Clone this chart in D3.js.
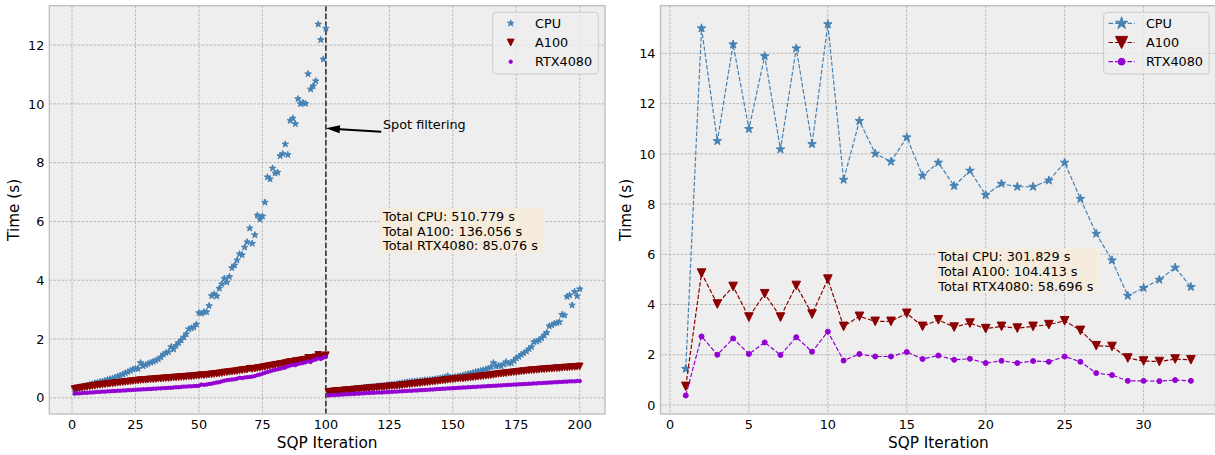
<!DOCTYPE html>
<html>
<head>
<meta charset="utf-8">
<script src="https://cdn.jsdelivr.net/npm/d3@7"></script>
<style>
body { margin: 0; background: #fff; }
svg { display: block; font-family: "DejaVu Sans", sans-serif; }
</style>
</head>
<body>
<svg width="1215" height="455"></svg>
<script>
// left panel: 200 SQP iterations, spot filtering at 100
var iterAll = d3.range(1, 201);
var cpuAll = [
  0.30,0.32,0.34,0.37,0.40,0.42,0.45,0.47,0.50,0.52,
  0.54,0.56,0.58,0.61,0.64,0.66,0.69,0.73,0.76,0.80,
  0.84,0.88,0.92,0.97,1.00,0.99,1.19,1.08,1.12,1.16,
  1.20,1.23,1.27,1.31,1.38,1.48,1.53,1.56,1.73,1.65,
  1.78,1.87,1.96,2.06,2.17,2.34,2.37,2.40,2.50,2.89,
  2.87,2.92,2.92,3.13,3.47,3.53,3.46,3.72,3.87,4.06,
  3.93,4.12,4.42,4.51,4.68,4.89,4.86,5.12,5.30,5.77,
  5.25,5.54,6.21,6.07,6.18,6.65,7.51,7.44,7.81,7.64,
  7.67,8.23,8.30,8.63,8.27,9.43,9.51,9.32,10.17,10.00,
  10.04,10.01,11.02,10.50,10.61,10.78,12.71,12.18,11.52,12.57,
  0.20,0.21,0.22,0.23,0.24,0.25,0.26,0.27,0.28,0.29,
  0.30,0.31,0.32,0.33,0.34,0.35,0.36,0.37,0.38,0.39,
  0.40,0.41,0.42,0.43,0.44,0.45,0.46,0.47,0.49,0.50,
  0.52,0.53,0.54,0.55,0.56,0.57,0.58,0.59,0.60,0.60,
  0.61,0.62,0.63,0.65,0.66,0.68,0.70,0.74,0.69,0.70,
  0.71,0.73,0.74,0.76,0.79,0.81,0.83,0.85,0.88,0.90,
  0.92,0.94,0.97,1.00,1.04,1.19,1.07,1.10,1.08,1.14,
  1.22,1.17,1.18,1.26,1.35,1.40,1.47,1.52,1.58,1.66,
  1.73,1.90,1.92,1.96,2.03,2.13,2.22,2.44,2.47,2.53,
  2.55,2.58,2.83,2.81,3.44,3.49,3.15,3.61,3.46,3.70
];
var a100All = [
  0.30,0.32,0.33,0.35,0.36,0.37,0.39,0.40,0.41,0.43,
  0.44,0.45,0.46,0.47,0.48,0.49,0.50,0.51,0.52,0.53,
  0.54,0.55,0.56,0.57,0.58,0.59,0.60,0.61,0.61,0.62,
  0.63,0.63,0.64,0.65,0.65,0.66,0.67,0.67,0.68,0.69,
  0.69,0.70,0.71,0.71,0.72,0.73,0.73,0.74,0.75,0.76,
  0.77,0.77,0.78,0.79,0.80,0.81,0.82,0.83,0.84,0.86,
  0.87,0.88,0.89,0.90,0.91,0.93,0.94,0.95,0.96,0.99,
  0.98,0.99,1.01,1.02,1.04,1.05,1.07,1.09,1.10,1.12,
  1.13,1.15,1.16,1.18,1.20,1.22,1.21,1.25,1.26,1.27,
  1.29,1.30,1.36,1.32,1.36,1.38,1.46,1.40,1.41,1.45,
  0.20,0.21,0.22,0.23,0.24,0.24,0.25,0.26,0.27,0.27,
  0.28,0.29,0.30,0.30,0.31,0.32,0.33,0.33,0.34,0.35,
  0.36,0.36,0.37,0.38,0.39,0.40,0.40,0.41,0.42,0.43,
  0.44,0.45,0.46,0.47,0.48,0.49,0.50,0.51,0.52,0.53,
  0.54,0.55,0.56,0.57,0.58,0.59,0.60,0.61,0.62,0.63,
  0.64,0.65,0.66,0.66,0.67,0.68,0.69,0.70,0.71,0.72,
  0.73,0.74,0.75,0.76,0.77,0.78,0.80,0.81,0.82,0.83,
  0.84,0.85,0.86,0.87,0.88,0.89,0.90,0.91,0.92,0.93,
  0.94,0.94,0.95,0.96,0.97,0.97,0.98,0.99,0.99,1.00,
  1.01,1.01,1.02,1.03,1.03,1.04,1.05,1.05,1.06,1.07
];
var rtxAll = [
  0.14,0.15,0.15,0.16,0.17,0.17,0.18,0.18,0.19,0.20,
  0.20,0.21,0.21,0.22,0.22,0.23,0.23,0.24,0.24,0.25,
  0.25,0.26,0.26,0.27,0.27,0.28,0.28,0.29,0.29,0.30,
  0.30,0.31,0.31,0.32,0.32,0.33,0.33,0.34,0.34,0.35,
  0.36,0.36,0.37,0.38,0.38,0.39,0.39,0.40,0.40,0.41,
  0.45,0.44,0.45,0.47,0.48,0.50,0.52,0.53,0.56,0.58,
  0.60,0.61,0.62,0.63,0.65,0.68,0.67,0.69,0.70,0.71,
  0.72,0.74,0.77,0.79,0.82,0.85,0.88,0.90,0.93,0.95,
  0.97,0.99,1.01,1.03,1.07,1.10,1.12,1.11,1.15,1.17,
  1.18,1.21,1.24,1.22,1.28,1.30,1.34,1.32,1.37,1.39,
  0.08,0.09,0.09,0.10,0.10,0.11,0.11,0.12,0.12,0.13,
  0.13,0.14,0.14,0.15,0.15,0.16,0.16,0.17,0.17,0.18,
  0.18,0.18,0.19,0.19,0.20,0.20,0.21,0.21,0.22,0.22,
  0.23,0.23,0.24,0.24,0.25,0.25,0.26,0.26,0.27,0.27,
  0.28,0.28,0.29,0.30,0.30,0.31,0.31,0.32,0.32,0.33,
  0.33,0.34,0.34,0.35,0.35,0.36,0.36,0.37,0.37,0.38,
  0.38,0.39,0.39,0.40,0.40,0.41,0.41,0.42,0.42,0.43,
  0.43,0.44,0.44,0.45,0.45,0.46,0.46,0.47,0.47,0.48,
  0.48,0.49,0.49,0.50,0.50,0.51,0.51,0.52,0.52,0.53,
  0.53,0.54,0.54,0.55,0.55,0.56,0.56,0.56,0.57,0.57
];
var totalsAll = ["Total CPU: 510.779 s", "Total A100: 136.056 s", "Total RTX4080: 85.076 s"];

// right panel: 33 SQP iterations
var iterShort = d3.range(1, 34);
var cpuShort = [1.44,15.00,10.51,14.36,10.99,13.89,10.18,14.20,10.39,15.16,8.97,11.31,10.01,9.69,10.66,9.13,9.65,8.72,9.33,8.36,8.81,8.69,8.69,8.94,9.65,8.21,6.82,5.76,4.35,4.66,4.99,5.47,4.70];
var a100Short = [0.74,5.25,4.02,4.72,3.50,4.43,3.50,4.76,3.62,5.01,3.13,3.53,3.33,3.33,3.65,3.13,3.39,3.10,3.26,3.04,3.13,3.06,3.13,3.20,3.35,2.97,2.36,2.33,1.87,1.75,1.73,1.83,1.80];
var rtxShort = [0.38,2.73,2.00,2.65,2.03,2.49,1.99,2.70,2.12,2.92,1.77,2.03,1.93,1.93,2.11,1.83,1.97,1.80,1.84,1.67,1.76,1.67,1.75,1.72,1.93,1.72,1.27,1.19,0.96,0.96,0.95,0.99,0.96];
var totalsShort = ["Total CPU: 301.829 s", "Total A100: 104.413 s", "Total RTX4080: 58.696 s"];

var seriesNames = ["CPU", "A100", "RTX4080"];
var seriesColors = ["steelblue", "darkred", "darkviolet"];
var seriesMarkers = ["star", "tri", "dot"];

var ticksLeftX = [0, 25, 50, 75, 100, 125, 150, 175, 200];
var ticksLeftY = [0, 2, 4, 6, 8, 10, 12];
var ticksRightX = [0, 5, 10, 15, 20, 25, 30];
var ticksRightY = [0, 2, 4, 6, 8, 10, 12, 14];

var spotIter = 100;
var spotTip = [100, 9.17];
var spotTail = [121.8, 9.05];
var spotLabel = [122.5, 9.14];
var boxLeftAt = [122.5, 6.33];
var boxRightAt = [17.0, 6.09];

var svg = d3.select("svg");
var FS = 12.8;

function padded(vals) {
    var e = d3.extent(vals), r = e[1] - e[0];
    return [e[0] - 0.05 * r, e[1] + 0.05 * r];
}

// marker path, s = size in px
function markerPath(kind, s) {
    if (kind == "star") return d3.symbol(d3.symbolStar, (s / 2) * (s / 2) / 0.8908130915292852)();
    if (kind == "tri") { var h = s / 2; return "M" + (-h) + "," + (-h) + "L" + h + "," + (-h) + "L0," + h + "Z"; }
    return d3.symbol(d3.symbolCircle, Math.PI * (s / 2) * (s / 2))();
}

function drawPanel(p) {
    var g = svg.append("g");
    var x = d3.scaleLinear().domain(padded(p.xs)).range([p.x0, p.x1]);
    var y = d3.scaleLinear().domain(padded([].concat(p.ys[0], p.ys[1], p.ys[2]))).range([p.y1, p.y0]);
    var clipId = "clip" + p.id;
    svg.append("clipPath").attr("id", clipId).append("rect")
        .attr("x", p.x0).attr("y", p.y0).attr("width", p.x1 - p.x0).attr("height", p.y1 - p.y0);

    g.append("rect").attr("x", p.x0).attr("y", p.y0).attr("width", p.x1 - p.x0).attr("height", p.y1 - p.y0)
        .attr("fill", "#eeeeee");

    // grid
    g.selectAll(".gx").data(p.tx).enter().append("line")
        .attr("x1", d => x(d)).attr("x2", d => x(d)).attr("y1", p.y0).attr("y2", p.y1)
        .attr("stroke", "#b2b2b2").attr("stroke-width", 0.9).attr("stroke-dasharray", "2.6,1.4");
    g.selectAll(".gy").data(p.ty).enter().append("line")
        .attr("y1", d => y(d)).attr("y2", d => y(d)).attr("x1", p.x0).attr("x2", p.x1)
        .attr("stroke", "#b2b2b2").attr("stroke-width", 0.9).attr("stroke-dasharray", "2.6,1.4");

    var plot = g.append("g").attr("clip-path", "url(#" + clipId + ")");

    if (p.spot != null) {
        plot.append("line").attr("x1", x(p.spot)).attr("x2", x(p.spot)).attr("y1", p.y0).attr("y2", p.y1)
            .attr("stroke", "#333").attr("stroke-width", 1.6).attr("stroke-dasharray", "5.5,2.4");
    }

    for (let k = 0; k < 3; k++) {
        let pts = p.xs.map((d, i) => [d, p.ys[k][i]]);
        if (p.lines) {
            plot.append("path").datum(pts)
                .attr("d", d3.line().x(d => x(d[0])).y(d => y(d[1])))
                .attr("fill", "none").attr("stroke", seriesColors[k])
                .attr("stroke-width", 1.2).attr("stroke-dasharray", "4.4,1.9");
        }
        plot.selectAll(".m" + k).data(pts).enter().append("path")
            .attr("transform", d => "translate(" + x(d[0]) + "," + y(d[1]) + ")")
            .attr("d", markerPath(seriesMarkers[k], p.msize[k]))
            .attr("fill", seriesColors[k]).attr("stroke", seriesColors[k]).attr("stroke-width", 1)
            .attr("stroke-linejoin", "round");
    }

    // frame
    g.append("rect").attr("x", p.x0).attr("y", p.y0).attr("width", p.x1 - p.x0).attr("height", p.y1 - p.y0)
        .attr("fill", "none").attr("stroke", "#bcbcbc").attr("stroke-width", 1.3);

    // tick labels
    g.selectAll(".tx").data(p.tx).enter().append("text")
        .attr("x", d => x(d)).attr("y", p.y1 + 15).attr("text-anchor", "middle")
        .attr("font-size", FS).attr("fill", "#000").text(d => d);
    g.selectAll(".ty").data(p.ty).enter().append("text")
        .attr("x", p.x0 - 5).attr("y", d => y(d) + 0.729 * FS / 2).attr("text-anchor", "end")
        .attr("font-size", FS).attr("fill", "#000").text(d => d);

    g.append("text").attr("x", (p.x0 + p.x1) / 2).attr("y", 448.3).attr("text-anchor", "middle")
        .attr("font-size", 15.3).attr("fill", "#000").text("SQP Iteration");
    g.append("text").attr("transform", "translate(" + p.ylabX + "," + (p.y0 + p.y1) / 2 + ") rotate(-90)")
        .attr("text-anchor", "middle").attr("font-size", 15.3).attr("fill", "#000").text("Time (s)");

    // totals box
    var bx = x(p.boxAt[0]), by = y(p.boxAt[1]) + 0.729 * FS;
    var box = g.append("g");
    var rect = box.append("rect").attr("fill", "rgb(245,236,222)");
    var tg = box.append("g");
    p.totals.forEach(function (t, i) {
        tg.append("text").attr("x", bx).attr("y", by + i * 14.6).attr("font-size", FS).attr("fill", "#000").text(t);
    });
    var bb = tg.node().getBBox();
    rect.attr("x", bx - 3.4).attr("y", by - 0.729 * FS - 3.4)
        .attr("width", bb.width + 7.6).attr("height", 2 * 14.6 + 0.729 * FS + 3.4 + 2.4);

    // legend
    var lg = g.append("g");
    lg.append("rect").attr("x", p.legX).attr("y", 12.3).attr("width", 105.6).attr("height", 61.7)
        .attr("rx", 3.5).attr("fill", "#eeeeee").attr("fill-opacity", 0.8)
        .attr("stroke", "#cccccc").attr("stroke-width", 1);
    seriesNames.forEach(function (n, k) {
        var cy = 23.3 + k * 19.2;
        if (p.lines) {
            lg.append("line").attr("x1", p.legX + 5).attr("x2", p.legX + 31).attr("y1", cy).attr("y2", cy)
                .attr("stroke", seriesColors[k]).attr("stroke-width", 1.2).attr("stroke-dasharray", "4.4,1.9");
        }
        lg.append("path").attr("transform", "translate(" + (p.legX + 18) + "," + cy + ")")
            .attr("d", markerPath(seriesMarkers[k], p.lsize[k]))
            .attr("fill", seriesColors[k]).attr("stroke", seriesColors[k]).attr("stroke-width", 1)
            .attr("stroke-linejoin", "round");
        lg.append("text").attr("x", p.legX + 42.3).attr("y", cy + 0.729 * FS / 2)
            .attr("font-size", FS).attr("fill", "#000").text(n);
    });
    return { x: x, y: y, g: g };
}

var left = drawPanel({
    id: "L", x0: 49.3, x1: 605, y0: 5.7, y1: 414, xs: iterAll, ys: [cpuAll, a100All, rtxAll],
    tx: ticksLeftX, ty: ticksLeftY, lines: false, spot: spotIter,
    msize: [6.8, 6.6, 3.4], lsize: [6.8, 6.8, 3.4], legX: 492.7, ylabX: 19.3,
    totals: totalsAll, boxAt: boxLeftAt
});

drawPanel({
    id: "R", x0: 660.5, x1: 1216.2, y0: 5.7, y1: 414, xs: iterShort, ys: [cpuShort, a100Short, rtxShort],
    tx: ticksRightX, ty: ticksRightY, lines: true, spot: null,
    msize: [9.0, 8.6, 5.0], lsize: [13, 12.2, 6.8], legX: 1103.6, ylabX: 631,
    totals: totalsShort, boxAt: boxRightAt
});

// spot filtering annotation
var tip = [left.x(spotTip[0]), left.y(spotTip[1])];
var tail = [left.x(spotTail[0]), left.y(spotTail[1])];
var dx = tip[0] - tail[0], dy = tip[1] - tail[1], len = Math.sqrt(dx * dx + dy * dy);
var ux = dx / len, uy = dy / len, nx = -uy, ny = ux;
var hl = 14, hw = 4, sw = 1;
var hb = [tip[0] - ux * hl, tip[1] - uy * hl];
var arrow = [
    [tail[0] + nx * sw, tail[1] + ny * sw], [hb[0] + nx * sw, hb[1] + ny * sw], [hb[0] + nx * hw, hb[1] + ny * hw],
    tip, [hb[0] - nx * hw, hb[1] - ny * hw], [hb[0] - nx * sw, hb[1] - ny * sw], [tail[0] - nx * sw, tail[1] - ny * sw]
];
left.g.append("path").attr("d", "M" + arrow.join("L") + "Z").attr("fill", "black");
left.g.append("text").attr("x", left.x(spotLabel[0])).attr("y", left.y(spotLabel[1]))
    .attr("font-size", FS).attr("fill", "#000").text("Spot filtering");
</script>
</body>
</html>
